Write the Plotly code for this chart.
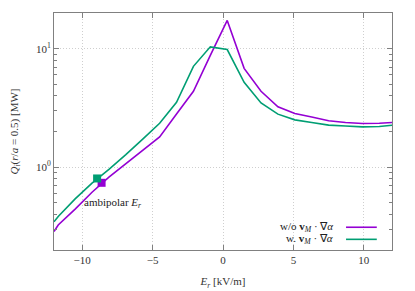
import plotly.graph_objects as go

# Radial electric field grid (kV/m)
Er = [-12.0, -11.7, -10.5, -9.3, -8.1, -6.9, -5.7, -4.5, -3.3, -2.1, -0.9,
      0.3, 1.5, 2.7, 3.9, 5.1, 6.3, 7.5, 8.7, 9.9, 11.1, 12.3]

# Q_i(r/a=0.5) [MW] without v_M . grad alpha
Q_without = [0.286, 0.325, 0.443, 0.614, 0.825, 1.068, 1.388, 1.80, 2.807, 4.368, 8.78,
             17.3, 6.82, 4.37, 3.233, 2.840, 2.648, 2.465, 2.380, 2.339, 2.348, 2.394]

# Q_i(r/a=0.5) [MW] with v_M . grad alpha
Q_with = [0.346, 0.384, 0.540, 0.733, 0.960, 1.274, 1.725, 2.348, 3.528, 7.094, 10.36,
          9.83, 5.201, 3.480, 2.802, 2.508, 2.385, 2.263, 2.228, 2.190, 2.203, 2.280]

# Ambipolar points
amb_Er_without = [-8.62]
amb_Q_without = [0.738]
amb_Er_with = [-8.94]
amb_Q_with = [0.803]

label_without = "w/o <b>v</b><sub><i>M</i></sub> · ∇<i>α</i>"
label_with = "w. <b>v</b><sub><i>M</i></sub> · ∇<i>α</i>"

purple = "#9400D3"
green = "#009E73"
FF = "Liberation Serif"

fig = go.Figure()
fig.add_trace(go.Scatter(x=Er, y=Q_without, mode="lines", line=dict(color=purple, width=1.6),
                         name=label_without, showlegend=False))
fig.add_trace(go.Scatter(x=Er, y=Q_with, mode="lines", line=dict(color=green, width=1.6),
                         name=label_with, showlegend=False))
fig.add_trace(go.Scatter(x=amb_Er_without, y=amb_Q_without, mode="markers",
                         marker=dict(symbol="square", size=8, color=purple), showlegend=False))
fig.add_trace(go.Scatter(x=amb_Er_with, y=amb_Q_with, mode="markers",
                         marker=dict(symbol="square", size=8, color=green), showlegend=False))

# Manual gnuplot-style legend (text right, sample line to the right)
legend_rows = [(label_without, purple, 0.096), (label_with, green, 0.045)]
for text, col, yp in legend_rows:
    fig.add_annotation(xref="paper", yref="paper", x=0.831, y=yp, text=text, showarrow=False,
                       xanchor="right", yanchor="middle", font=dict(family=FF, size=11, color="#222"))
    fig.add_shape(type="line", xref="paper", yref="paper", x0=0.864, x1=0.955, y0=yp, y1=yp,
                  line=dict(color=col, width=1.6))

fig.add_annotation(x=-10, y=-0.30103, yref="y", xref="x", text="ambipolar <i>E<sub>r</sub></i>",
                   showarrow=False, xanchor="left", yanchor="middle",
                   font=dict(family=FF, size=11, color="#222"))

axis_common = dict(showline=True, linecolor="#808080", linewidth=1, mirror="ticks",
                   ticks="inside", ticklen=5, tickcolor="#808080", automargin=False,
                   showgrid=True, gridcolor="#cfcfcf", griddash="1px,2px", gridwidth=1,
                   zeroline=False, tickfont=dict(family=FF, size=11, color="#333"))

fig.update_xaxes(range=[-12, 12], tickvals=[-10, -5, 0, 5, 10],
                 ticktext=["−10", "−5", "0", "5", "10"],
                 title=dict(text="<i>E<sub>r</sub></i> [kV/m]", font=dict(family=FF, size=11, color="#333"), standoff=12),
                 **axis_common)
fig.update_yaxes(type="log", range=[-0.699, 1.301], tickvals=[1, 10],
                 ticktext=["10<sup>0</sup>", "10<sup>1</sup>"],
                 minor=dict(tickvals=[0.2, 0.3, 0.4, 0.5, 0.6, 0.7, 0.8, 0.9,
                                      2, 3, 4, 5, 6, 7, 8, 9, 20],
                            ticks="inside", ticklen=3, tickcolor="#808080", showgrid=False),
                 title=dict(text="<i>Q<sub>i</sub></i>(<i>r</i>/<i>a</i> = 0.5) [MW]",
                            font=dict(family=FF, size=11, color="#333"), standoff=19),
                 **axis_common)

# page body has an 8px margin; compensate so the plot area lands at 54..392 x 13..250
fig.update_layout(width=407, height=283, margin=dict(l=46, r=23, t=5, b=41),
                  plot_bgcolor="white", paper_bgcolor="white",
                  font=dict(family=FF, size=11, color="#333"))

fig.write_html("out.html")
